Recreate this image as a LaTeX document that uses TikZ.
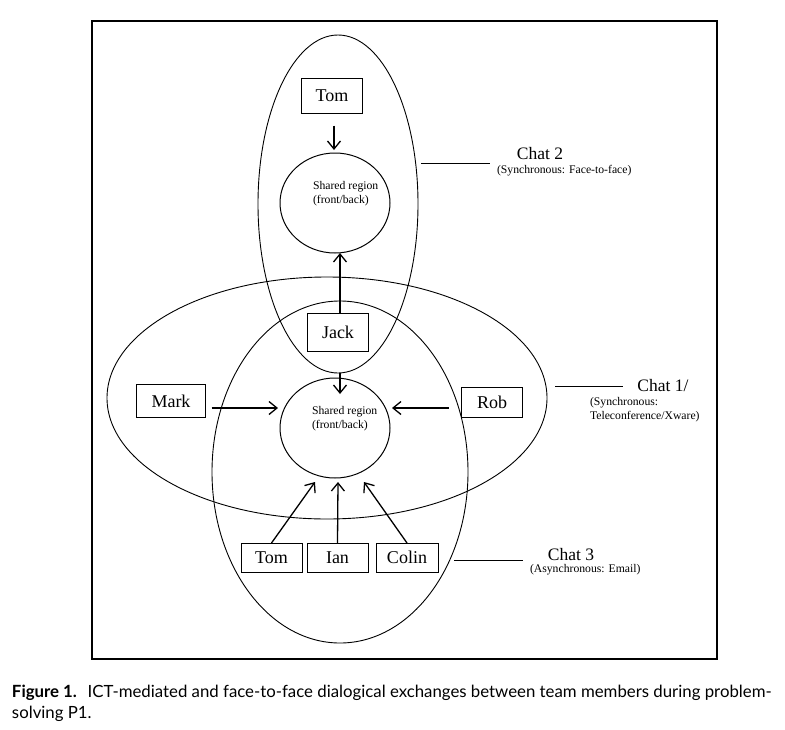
\documentclass[tikz,border=0pt]{standalone}
\usepackage{fontspec}
\setmainfont{Liberation Serif}
\newfontfamily\capfont{Lato}
\usetikzlibrary{arrows.meta,shapes.geometric}
\begin{document}
\begin{tikzpicture}[x=1pt,y=-1pt,
  every node/.style={inner sep=0pt, outer sep=0pt},
  pbox/.style={draw, line width=1pt, font=\fontsize{18}{21}\selectfont},
  region/.style={draw, ellipse, line width=1pt, minimum width=110pt, minimum height=100pt},
  chat/.style={draw, ellipse, line width=0.9pt},
  arr/.style={-{Straight Barb[length=8pt,width=13pt,line width=1.3pt]}, line width=1.3pt},
  big/.style={font=\fontsize{17.5}{20}\selectfont},
  small/.style={font=\fontsize{11.7}{14}\selectfont, align=left},
  lead/.style={line width=1pt}]
\useasboundingbox (0,0) rectangle (785,729);
\draw[line width=1.3pt] (92,21) rectangle (717,659);

% chat ellipses
\node[chat, minimum width=160pt, minimum height=338pt] (chat2) at (338,204) {};
\node[chat, minimum width=440pt, minimum height=242pt] (chat1) at (327,398) {};
\node[chat, minimum width=256pt, minimum height=342pt] (chat3) at (340,472) {};

% shared regions
\node[region] (sr2) at (335,203) {};
\node[region] (sr1) at (335,428) {};
\node[small, anchor=west] (sr2t) at (313,194) {Shared region\\(front/back)};
\node[small, anchor=west] (sr1t) at (312,419) {Shared region\\(front/back)};

% people
\node[pbox, minimum width=61pt, minimum height=35pt] (tom2) at (332,96) {Tom};
\node[pbox, minimum width=61pt, minimum height=38pt] (jack) at (338,332) {Jack};
\node[pbox, minimum width=69pt, minimum height=33pt] (mark) at (171,401) {Mark};
\node[pbox, minimum width=61pt, minimum height=30pt] (rob) at (492,402) {Rob};
\node[pbox, minimum width=61pt, minimum height=29pt] (tom3) at (271.5,557.5) {Tom};
\node[pbox, minimum width=61pt, minimum height=29pt] (ian) at (337.5,557.5) {Ian\hspace{8pt}};
\node[pbox, minimum width=62pt, minimum height=29pt] (colin) at (407,557.5) {Colin};

% arrows
\draw[arr, shorten <=12pt, shorten >=3pt] (tom2.south -| 334,0) -- (sr2.north -| 334,0);
\draw[arr] (jack.north -| 340,0) -- (sr2.south -| 340,0);
\draw[arr, shorten >=-16pt] (chat2.south -| 340,0) -- (sr1.north -| 340,0);
\draw[arr, shorten <=6pt, shorten >=2pt] (mark.east |- 0,408) -- (sr1.west |- 0,408);
\draw[arr, shorten <=13pt, shorten >=2pt] (rob.west |- 0,408) -- (sr1.east |- 0,408);
\coordinate (tp1) at (315,482);
\coordinate (tp2) at (338,482);
\coordinate (tp3) at (364,482);
\draw[arr] (tom3.north) -- (tp1);
\draw[arr] (ian.north) -- (tp2);
\draw[arr] (colin.north) -- (tp3);

% chat labels
\coordinate (l2a) at (421,163); \coordinate (l2b) at (490,163);
\draw[lead] (l2a) -- (l2b);
\node[big] (c2) at (540,154) {Chat 2};
\node[small, anchor=west] (c2s) at (497,171) {(Synchronous: Face-to-face)};

\coordinate (l1a) at (555,386); \coordinate (l1b) at (623,386);
\draw[lead] (l1a) -- (l1b);
\node[big] (c1) at (663,386) {Chat 1/};
\node[small, anchor=north west] (c1s) at (590,397) {(Synchronous:\\Teleconference/Xware)};

\coordinate (l3a) at (454,560); \coordinate (l3b) at (523,560);
\draw[lead] (l3a) -- (l3b);
\node[big] (c3) at (571,555) {Chat 3};
\node[small, anchor=west] (c3s) at (530,570) {(Asynchronous: Email)};

% caption
\node[anchor=north west, align=left, font=\capfont\fontsize{16.8}{21}\selectfont] (cap) at (12,685)
 {\textbf{Figure 1.}\hspace{0.3em} ICT-mediated and face-to-face dialogical exchanges between team members during problem-\\solving P1.};
\end{tikzpicture}
\end{document}
